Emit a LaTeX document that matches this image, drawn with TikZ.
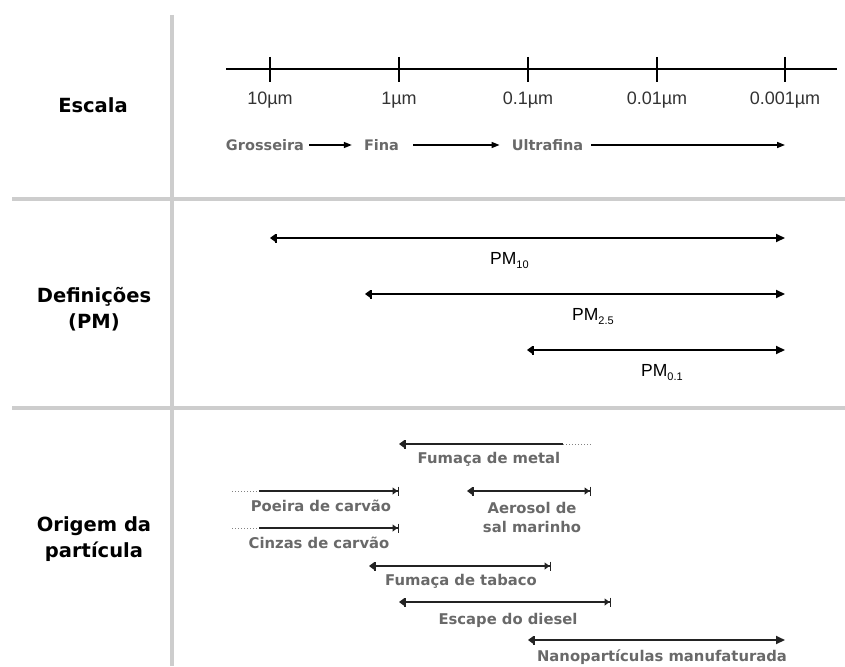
\documentclass[tikz,border=0pt]{standalone}
\usepackage{fontspec}
\setmainfont{Liberation Sans}
\newfontfamily\verdfont{DejaVu Sans}
\usetikzlibrary{arrows.meta, positioning}
\definecolor{gridgray}{RGB}{205, 205, 205}
\definecolor{txtgray}{RGB}{105, 105, 105}
\definecolor{linedark}{RGB}{35, 35, 35}
\definecolor{dotgray}{RGB}{130, 130, 130}
\tikzset{
  barin/.tip={Bar[width=9pt, line width=1.5pt]Triangle[length=5pt, width=7pt]},
  barout/.tip={Triangle[length=5pt, width=7pt]Bar[width=9pt, line width=1.5pt]},
  bighead/.tip={Triangle[length=9pt, width=8pt]}
}

\begin{document}
\begin{tikzpicture}[x=1pt, y=-1pt,
  gridline/.style={gridgray, line width=4.5pt},
  section/.style={font=\verdfont\bfseries\fontsize{19.5}{26}\selectfont, align=center},
  ticklbl/.style={font=\fontsize{18}{18}\selectfont, text=black!80},
  classlbl/.style={font=\verdfont\bfseries\fontsize{14.5}{16}\selectfont, text=txtgray, inner sep=0pt},
  srclbl/.style={font=\verdfont\bfseries\fontsize{14.8}{19}\selectfont, text=txtgray, align=center},
  pmlbl/.style={font=\fontsize{17.5}{18}\selectfont, anchor=base west, inner sep=0pt},
  flow/.style={-{Triangle[length=8pt, width=6pt]}, line width=1.5pt},
  pmrange/.style={barin-bighead, line width=2pt},
  srcrange/.style={line width=2pt, linedark},
  dotpart/.style={dotgray, line width=1pt, dotted}
]
  \useasboundingbox (0,0) rectangle (845,666);

  % Grid
  \draw[gridline] (172,15) -- (172,666);
  \draw[gridline] (12,199) -- (845,199);
  \draw[gridline] (12,408) -- (845,408);

  % Section titles
  \node[section, anchor=base] (escala) at (93,113) {Escala};
  \node[section] (defs) at (94,309) {Definições\\(PM)};
  \node[section] (origem) at (94,539) {Origem da\\partícula};

  % Scale
  \coordinate (axL) at (226,69);
  \coordinate (axR) at (837,69);
  \draw[line width=1.5pt] (axL) -- (axR);
  \foreach \x/\lbl [count=\i] in {270/10µm, 399/1µm, 528/0.1µm, 657/0.01µm, 785/0.001µm} {
    \draw[line width=1.5pt] (\x,57) -- (\x,82);
    \node[ticklbl] (tick\i) at (\x,100) {\lbl};
  }

  \node[classlbl] (grosseira) at (265,145) {Grosseira};
  \node[classlbl] (fina) at (381.5,145) {Fina};
  \node[classlbl] (ultrafina) at (547.5,145) {Ultrafina};
  \coordinate (flowend) at (785,145);
  \draw[flow, shorten <=5pt, shorten >=12pt] (grosseira.east) -- (fina.west);
  \draw[flow, shorten <=14pt, shorten >=12pt] (fina.east) -- (ultrafina.west);
  \draw[flow, shorten <=8pt] (ultrafina.east) -- (flowend);

  % Definitions (PM)
  \coordinate (pm10a) at (270,238);  \coordinate (pm10b) at (785,238);
  \coordinate (pm25a) at (365,294);  \coordinate (pm25b) at (785,294);
  \coordinate (pm01a) at (527,350);  \coordinate (pm01b) at (785,350);
  \draw[pmrange] (pm10a) -- (pm10b);
  \draw[pmrange] (pm25a) -- (pm25b);
  \draw[pmrange] (pm01a) -- (pm01b);
  \node[pmlbl] (pm10) at (490,264) {PM\raisebox{-4pt}{\fontsize{11}{11}\selectfont 10}};
  \node[pmlbl] (pm25) at (572,320) {PM\raisebox{-4pt}{\fontsize{11}{11}\selectfont 2.5}};
  \node[pmlbl] (pm01) at (641,376) {PM\raisebox{-4pt}{\fontsize{11}{11}\selectfont 0.1}};

  % Particle sources
  \coordinate (metalA) at (399,444); \coordinate (metalB) at (563,444); \coordinate (metalC) at (592,444);
  \draw[srcrange, barin-] (metalA) -- (metalB);
  \draw[dotpart] (metalB) -- (metalC);
  \node[srclbl, anchor=base] (metal) at (489,463) {Fumaça de metal};

  \coordinate (poeiraA) at (232,491); \coordinate (poeiraB) at (259,491); \coordinate (poeiraC) at (399,491);
  \draw[dotpart] (poeiraA) -- (poeiraB);
  \draw[srcrange, -barout] (poeiraB) -- (poeiraC);
  \node[srclbl, anchor=base] (poeira) at (321,511) {Poeira de carvão};

  \coordinate (salA) at (467,491); \coordinate (salB) at (591,491);
  \draw[srcrange, barin-barout] (salA) -- (salB);
  \node[srclbl] (sal) at (532,517) {Aerosol de\\sal marinho};

  \coordinate (cinzasA) at (232,528); \coordinate (cinzasB) at (259,528); \coordinate (cinzasC) at (399,528);
  \draw[dotpart] (cinzasA) -- (cinzasB);
  \draw[srcrange, -barout] (cinzasB) -- (cinzasC);
  \node[srclbl, anchor=base] (cinzas) at (319,548) {Cinzas de carvão};

  \coordinate (tabacoA) at (369,566); \coordinate (tabacoB) at (551,566);
  \draw[srcrange, barin-barout] (tabacoA) -- (tabacoB);
  \node[srclbl, anchor=base] (tabaco) at (461,585) {Fumaça de tabaco};

  \coordinate (dieselA) at (399,602); \coordinate (dieselB) at (611,602);
  \draw[srcrange, barin-barout] (dieselA) -- (dieselB);
  \node[srclbl, anchor=base] (diesel) at (508,624) {Escape do diesel};

  \coordinate (nanoA) at (528,640); \coordinate (nanoB) at (785,640);
  \draw[srcrange, barin-bighead] (nanoA) -- (nanoB);
  \node[srclbl, anchor=base] (nano) at (662,661) {Nanopartículas manufaturada};
\end{tikzpicture}
\end{document}
